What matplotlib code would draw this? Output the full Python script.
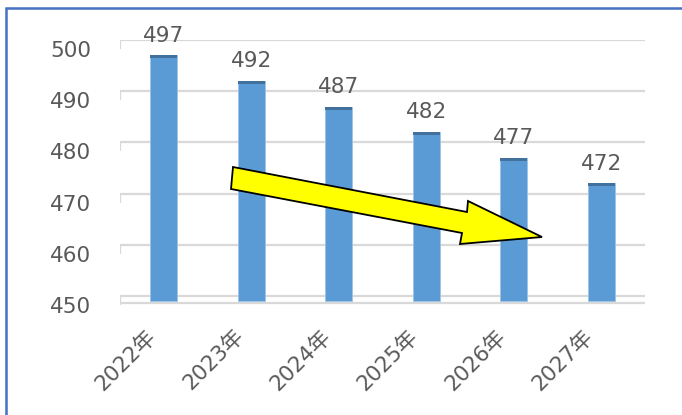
import matplotlib
matplotlib.use("Agg")
import matplotlib.pyplot as plt
from matplotlib.patches import Polygon, Rectangle
from matplotlib.transforms import ScaledTranslation
import numpy as np

plt.rcParams['font.family'] = ['DejaVu Sans', 'Noto Sans CJK JP']

categories = ['2022年', '2023年', '2024年', '2025年', '2026年', '2027年']
values = [497, 492, 487, 482, 477, 472]
yticks = [450, 460, 470, 480, 490, 500]

W, H = 682, 415
fig = plt.figure(figsize=(W / 100, H / 100), dpi=100)

depth = 9 / 5.12  # 3D floor depth in data units
ymin = 450 - depth
ax = fig.add_axes([120 / W, 1 - 305 / H, (645 - 120) / W, (305 - 40) / H])
ax.set_xlim(-0.5, len(categories) - 0.5)
ax.set_ylim(ymin, 500)
for s in ax.spines.values():
    s.set_visible(False)

grid_c = '#D9D9D9'
x = np.arange(len(categories))
ax.hlines(yticks, -0.5, len(categories) - 0.5, color=grid_c, lw=1.6, zorder=1)
for v in yticks:
    ax.plot([-0.5, -0.5], [v, v - depth], color=grid_c, lw=1.6, zorder=1,
            solid_capstyle='butt')
ax.hlines([ymin + 0.3], -0.5, len(categories) - 0.5, color=grid_c, lw=1.6, zorder=1)

bw = 0.31
bar_bottom = 450 - 0.6 * depth
ax.bar(x, [v - bar_bottom for v in values], bottom=bar_bottom, width=bw,
       color='#5B9BD5', edgecolor='#9DC3E6', lw=0.6, zorder=3)
ax.bar(x, [0.6] * len(values), bottom=[v - 0.6 for v in values], width=bw,
       color='#41719C', lw=0, zorder=4)

txt_c = '#595959'
fs = 15.5
for xi, v in zip(x, values):
    ax.annotate(str(v), (xi, v), xytext=(0, 7), textcoords='offset points',
                ha='center', va='bottom', fontsize=fs, color=txt_c)

ax.set_yticks([v - depth for v in yticks])
ax.set_yticklabels([str(v) for v in yticks], fontsize=fs, color=txt_c)
ax.tick_params(axis='y', length=0, pad=21)
ax.set_xticks(x)
ax.set_xticklabels(categories, rotation=45, ha='right', va='center',
                   rotation_mode='anchor', fontsize=fs, color=txt_c)
ax.tick_params(axis='x', length=0, pad=20)
shift = ScaledTranslation(-8 / 72, 0, fig.dpi_scale_trans)
for lab in ax.get_xticklabels():
    lab.set_transform(lab.get_transform() + shift)

# yellow trend arrow (decoration)
pts_px = [(233, 167), (467, 212), (468, 201), (542, 237), (460, 244), (462, 233), (231, 189)]
pts = [(px / W, 1 - py / H) for px, py in pts_px]
fig.patches.append(Polygon(pts, closed=True, transform=fig.transFigure,
                           facecolor='#FFFF00', edgecolor='black', lw=1.3, zorder=10))

fig.patches.append(Rectangle((6 / W, -0.1), 1.2, 1 - 8 / H + 0.1, transform=fig.transFigure,
                             fill=False, edgecolor='#4472C4', lw=1.8))

fig.savefig('out.png', dpi=100)
